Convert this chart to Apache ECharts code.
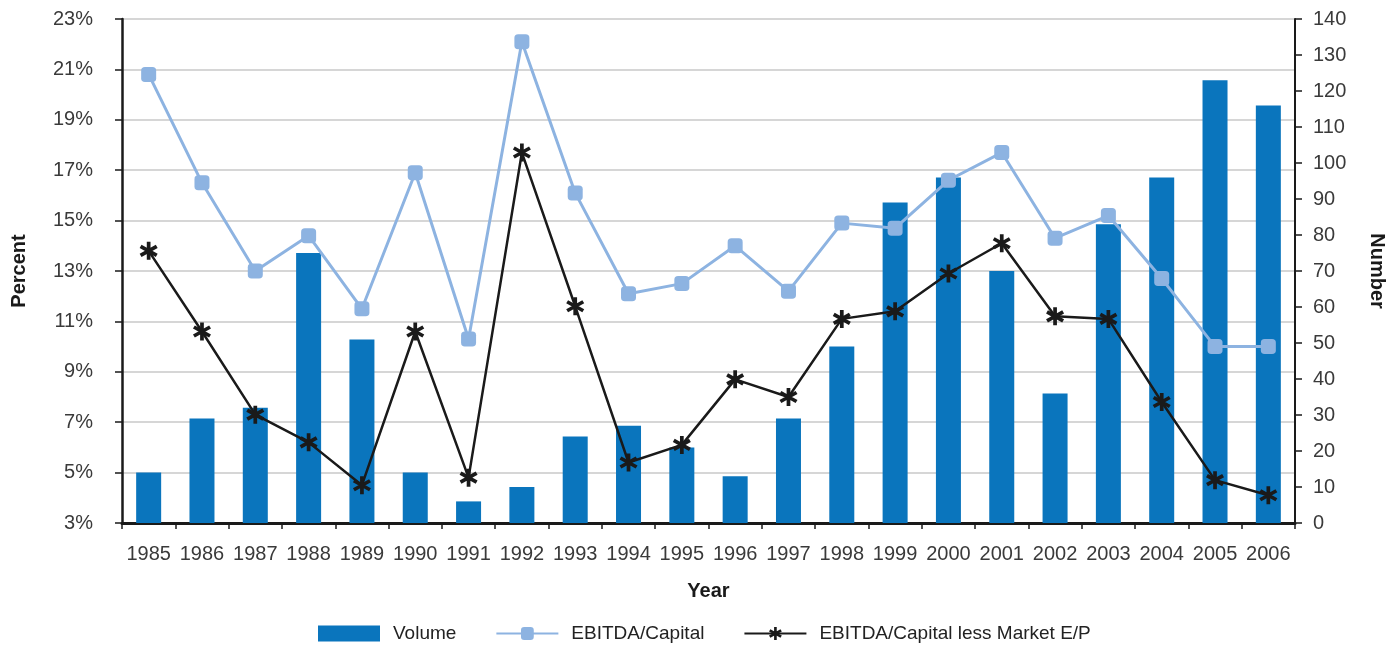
<!DOCTYPE html>
<html>
<head>
<meta charset="utf-8">
<script src="https://cdn.jsdelivr.net/npm/echarts@6/dist/echarts.min.js"></script>
<style>
  html, body { margin: 0; padding: 0; background: #fff; }
  #chart { width: 1389px; height: 645px; }
</style>
</head>
<body>
<div id="chart"></div>
<script>
// Leveraged buyout volume and EBITDA-based return measures, 1985-2006
const years = ['1985','1986','1987','1988','1989','1990','1991','1992','1993','1994','1995',
               '1996','1997','1998','1999','2000','2001','2002','2003','2004','2005','2006'];

// Number of deals (right axis)
const volume = [14, 29, 32, 75, 51, 14, 6, 10, 24, 27, 21,
                13, 29, 49, 89, 96, 70, 36, 83, 96, 123, 116];

// EBITDA/Capital, percent (left axis)
const ebitdaCapital = [20.8, 16.5, 13.0, 14.4, 11.5, 16.9, 10.3, 22.1, 16.1, 12.1, 12.5,
                       14.0, 12.2, 14.9, 14.7, 16.6, 17.7, 14.3, 15.2, 12.7, 10.0, 10.0];

// EBITDA/Capital less market earnings/price, percent (left axis)
const ebitdaLessEP = [13.8, 10.6, 7.3, 6.2, 4.5, 10.6, 4.8, 17.7, 11.6, 5.4, 6.1,
                      8.7, 8.0, 11.1, 11.4, 12.9, 14.1, 11.2, 11.1, 7.8, 4.7, 4.1];

// Six-armed asterisk marker built from three bars
const asterisk = 'path://M2,10L-2,10L-2,-10L2,-10Z' +
  'M9.66,3.27L7.66,6.73L-9.66,-3.27L-7.66,-6.73Z' +
  'M7.66,-6.73L9.66,-3.27L-7.66,6.73L-9.66,3.27Z';

const tickFont = { fontFamily: "'Liberation Sans', Arial, sans-serif", fontSize: 20, color: '#3a3a3a' };
const nameFont = { fontFamily: "'Liberation Sans', Arial, sans-serif", fontSize: 20, fontWeight: 'bold', color: '#1a1a1a' };

const chart = echarts.init(document.getElementById('chart'), null, { renderer: 'canvas' });
chart.setOption({
  animation: false,
  backgroundColor: '#ffffff',
  grid: { left: 122, right: 94, top: 19, bottom: 122, containLabel: false, outerBoundsMode: 'none' },
  legend: {
    left: 313,
    top: 619,
    itemWidth: 62,
    itemHeight: 16,
    itemGap: 39,
    textStyle: { fontFamily: "'Liberation Sans', Arial, sans-serif", fontSize: 19, color: '#222', padding: [0, 0, 0, 8] },
    data: [
      { name: 'Volume', icon: 'rect' },
      { name: 'EBITDA/Capital' },
      { name: 'EBITDA/Capital less Market E/P' }
    ]
  },
  xAxis: {
    type: 'category',
    data: years,
    boundaryGap: true,
    name: 'Year',
    nameLocation: 'middle',
    nameGap: 58,
    nameTextStyle: nameFont,
    axisLine: { lineStyle: { color: '#1a1a1a', width: 3 } },
    axisTick: { show: true, length: 6, lineStyle: { color: '#1a1a1a', width: 1.5 } },
    axisLabel: Object.assign({ margin: 21, interval: 0 }, tickFont),
    splitLine: { show: false }
  },
  yAxis: [
    {
      type: 'value',
      position: 'left',
      min: 3,
      max: 23,
      interval: 2,
      name: 'Percent',
      nameLocation: 'middle',
      nameGap: 93,
      nameTextStyle: nameFont,
      axisLine: { show: true, lineStyle: { color: '#1a1a1a', width: 2.5 } },
      axisTick: { show: true, length: 7, lineStyle: { color: '#1a1a1a', width: 1.5 } },
      axisLabel: Object.assign({ margin: 29, formatter: '{value}%' }, tickFont),
      splitLine: { show: true, lineStyle: { color: '#c9c9c9', width: 1.5 } }
    },
    {
      type: 'value',
      position: 'right',
      min: 0,
      max: 140,
      interval: 10,
      name: 'Number',
      nameLocation: 'middle',
      nameGap: 72,
      nameRotate: -90,
      nameTextStyle: nameFont,
      axisLine: { show: true, lineStyle: { color: '#1a1a1a', width: 2 } },
      axisTick: { show: true, length: 7, lineStyle: { color: '#1a1a1a', width: 1.5 } },
      axisLabel: Object.assign({ margin: 18 }, tickFont),
      splitLine: { show: false }
    }
  ],
  series: [
    {
      name: 'Volume',
      type: 'bar',
      yAxisIndex: 1,
      data: volume,
      barWidth: 25,
      itemStyle: { color: '#0a75bd' },
      z: 1
    },
    {
      name: 'EBITDA/Capital',
      type: 'line',
      yAxisIndex: 0,
      data: ebitdaCapital,
      symbol: 'roundRect',
      symbolSize: 15,
      lineStyle: { color: '#8db3e1', width: 3 },
      itemStyle: { color: '#8db3e1', borderWidth: 0 },
      z: 3
    },
    {
      name: 'EBITDA/Capital less Market E/P',
      type: 'line',
      yAxisIndex: 0,
      data: ebitdaLessEP,
      symbol: asterisk,
      symbolSize: 18,
      lineStyle: { color: '#1a1a1a', width: 2.5 },
      itemStyle: { color: '#1a1a1a', borderWidth: 0 },
      z: 4
    }
  ]
});
</script>
</body>
</html>
